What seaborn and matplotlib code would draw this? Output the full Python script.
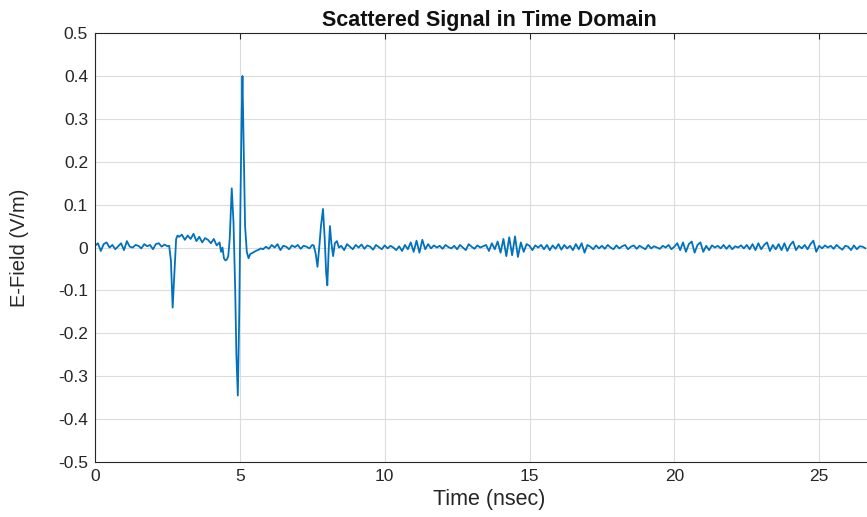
import numpy as np
import pandas as pd
import matplotlib
matplotlib.use("Agg")
import matplotlib.pyplot as plt
import seaborn as sns

# ---- data ----
t_pre = [round(0.1 * i, 2) for i in range(26)]            # 0.0 .. 2.5
e_pre = [0.004, 0.010, -0.008, 0.008, 0.012, 0.000, 0.006, -0.004, 0.003, 0.010,
         -0.006, 0.015, 0.002, 0.000, 0.006, 0.004, -0.002, 0.008, 0.003, 0.006,
         -0.004, 0.008, 0.010, 0.002, 0.007, 0.003]

t_p1 = [2.56, 2.62, 2.68, 2.74, 2.80, 2.85]
e_p1 = [0.004, -0.030, -0.140, -0.060, 0.020, 0.028]

t_mid = [round(2.9 + 0.1 * i, 2) for i in range(15)]      # 2.9 .. 4.3
e_mid = [0.025, 0.030, 0.018, 0.028, 0.020, 0.032, 0.015, 0.025, 0.012, 0.022,
         0.018, 0.010, 0.020, 0.005, 0.012]

t_main = [4.35, 4.40, 4.45, 4.50, 4.55, 4.60, 4.65, 4.72, 4.78, 4.84, 4.88, 4.93,
          4.98, 5.02, 5.06, 5.09, 5.13, 5.18, 5.24, 5.30, 5.36, 5.45, 5.55, 5.65, 5.72]
e_main = [-0.010, 0.000, -0.025, -0.030, -0.028, -0.020, 0.020, 0.138, 0.060, -0.100,
          -0.250, -0.345, -0.150, 0.100, 0.300, 0.400, 0.250, 0.050, -0.010, -0.025,
          -0.015, -0.012, -0.008, -0.005, -0.002]

t_gap = [round(5.8 + 0.1 * i, 2) for i in range(18)]      # 5.8 .. 7.5
e_gap = [-0.004, 0.002, -0.003, 0.006, 0.000, 0.008, -0.006, 0.004, 0.002, -0.004,
         0.005, 0.001, 0.006, -0.003, 0.004, 0.002, -0.002, 0.006]

t_p2 = [7.55, 7.62, 7.68, 7.74, 7.80, 7.87, 7.93, 7.98, 8.02, 8.07, 8.11, 8.16,
        8.22, 8.28, 8.35, 8.42]
e_p2 = [0.005, -0.015, -0.045, 0.000, 0.050, 0.090, 0.020, -0.060, -0.088, 0.000,
        0.050, 0.010, -0.020, 0.010, 0.015, 0.000]

t_tail = [round(8.5 + 0.1 * i, 2) for i in range(182)]    # 8.5 .. 26.6
e_tail = [0.004, -0.006, 0.008, 0.002, -0.004, 0.006, 0.000, 0.007, -0.003, 0.005,
          0.002, -0.005, 0.006, 0.001, -0.004, 0.005, -0.002, 0.004, 0.000, -0.006,
          0.003, -0.008, 0.006, -0.004, 0.012, -0.010, 0.016, -0.012, 0.018, -0.004,
          0.008, -0.002, 0.005, 0.000, 0.004, -0.003, 0.006, 0.001, -0.002, 0.004,
          -0.004, 0.006, 0.000, -0.006, 0.008, 0.002, -0.003, 0.005, 0.000, 0.003,
          0.006, -0.008, 0.010, -0.004, 0.014, -0.012, 0.020, -0.020, 0.024, -0.018,
          0.026, -0.022, 0.012, -0.010, 0.008, 0.004, -0.006, 0.005, 0.000, 0.006,
          -0.004, 0.006, -0.006, 0.005, -0.003, 0.008, -0.005, 0.006, -0.002, 0.004,
          -0.006, 0.008, -0.004, 0.010, -0.012, 0.006, 0.002, -0.004, 0.005, -0.002,
          0.004, -0.003, 0.006, 0.000, -0.004, 0.005, -0.002, 0.003, 0.006, -0.004,
          0.002, 0.005, -0.003, 0.004, 0.000, -0.004, 0.006, -0.002, 0.003, 0.000,
          -0.003, 0.004, 0.000, 0.006, -0.004, 0.002, 0.010, -0.006, 0.012, -0.010,
          0.008, 0.014, -0.012, 0.006, 0.012, -0.010, 0.004, -0.006, 0.005, 0.000,
          0.004, -0.002, 0.006, -0.003, 0.005, -0.004, 0.003, 0.000, 0.005, -0.002,
          0.006, -0.004, 0.008, -0.006, 0.010, -0.004, 0.006, 0.012, -0.008, 0.006,
          -0.004, 0.008, -0.006, 0.010, -0.008, 0.006, 0.014, -0.006, 0.004, -0.002,
          0.006, -0.004, 0.008, 0.016, -0.010, 0.004, -0.002, 0.005, 0.000, 0.004,
          -0.003, 0.006, 0.000, -0.005, 0.004, 0.002, -0.006, 0.005, -0.004, 0.003,
          0.002, -0.002]

x_ticks = [0, 5, 10, 15, 20, 25]
y_ticks = [-0.5, -0.4, -0.3, -0.2, -0.1, 0, 0.1, 0.2, 0.3, 0.4, 0.5]
y_tick_labels = ["-0.5", "-0.4", "-0.3", "-0.2", "-0.1", "0", "0.1", "0.2", "0.3", "0.4", "0.5"]

time_ns = t_pre + t_p1 + t_mid + t_main + t_gap + t_p2 + t_tail
efield = e_pre + e_p1 + e_mid + e_main + e_gap + e_p2 + e_tail
df = pd.DataFrame({"Time (nsec)": time_ns, "E-Field (V/m)": efield})

# ---- style ----
sns.set_style("white")
plt.rcParams["font.family"] = ["Liberation Sans", "DejaVu Sans"]

fig = plt.figure(figsize=(8.67, 5.17), dpi=100)
ax = fig.add_axes([0.1096, 0.1064, 0.9104, 0.8296])

sns.lineplot(data=df, x="Time (nsec)", y="E-Field (V/m)", ax=ax,
             color="#0072BD", linewidth=1.3, estimator=None, sort=False)

ax.set_xlim(0, 27.25)
ax.set_ylim(-0.5, 0.5)
ax.set_xticks(x_ticks)
ax.set_xticklabels([str(v) for v in x_ticks])
ax.set_yticks(y_ticks)
ax.set_yticklabels(y_tick_labels)
ax.grid(True, color="#dcdcdc", linewidth=0.8)
ax.set_axisbelow(True)

for s in ["left", "bottom", "top"]:
    ax.spines[s].set_color("#262626")
    ax.spines[s].set_linewidth(0.8)
ax.spines["right"].set_visible(False)

ax.tick_params(axis="both", which="both", direction="in", length=4, width=0.8,
               colors="#262626", labelsize=12.5, top=True, labelcolor="#262626")
ax.tick_params(axis="x", pad=5)
ax.tick_params(axis="y", pad=5)

ax.set_xlabel("Time (nsec)", fontsize=15.5, color="#262626", labelpad=4)
ax.set_ylabel("E-Field (V/m)", fontsize=14.5, color="#262626")
ax.yaxis.set_label_coords(-0.084, 0.5)
ax.set_title("Scattered Signal in Time Domain", fontsize=15.5, fontweight="bold",
             color="#111111", pad=5)

fig.savefig("out.png", dpi=100)
